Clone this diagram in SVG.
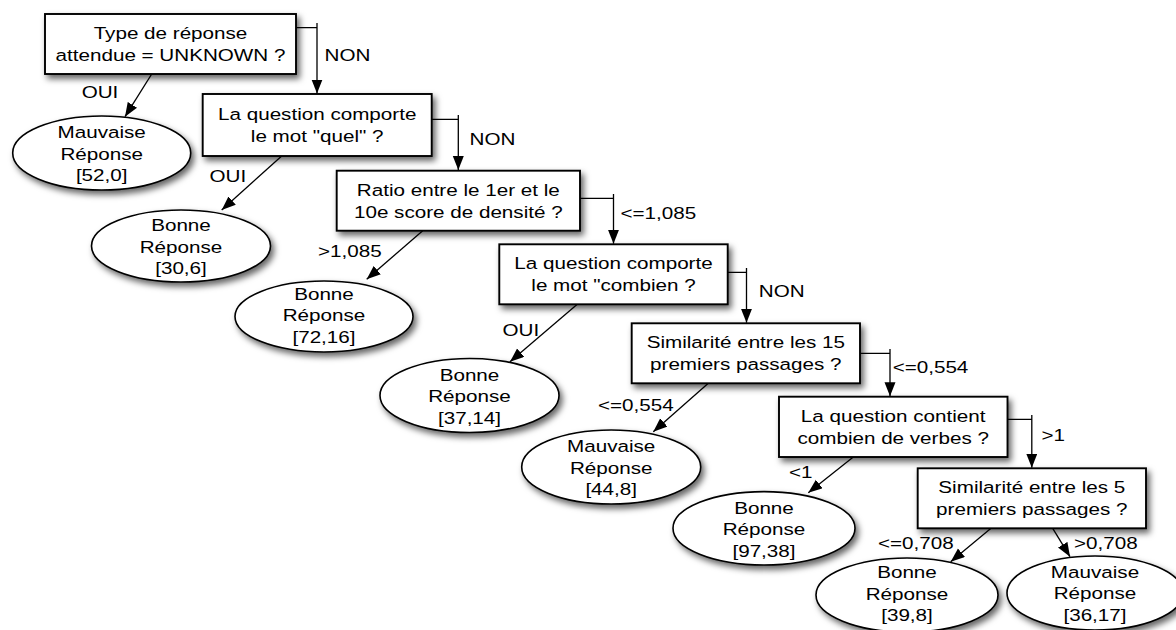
<svg xmlns="http://www.w3.org/2000/svg" width="1176" height="630" viewBox="0 0 1176 630">
<style>
.t{font-family:"Liberation Sans",Arial,Helvetica,sans-serif;font-size:17.2px;fill:#000;text-anchor:middle;transform-box:fill-box;transform-origin:center;transform:scaleX(1.2)}
.box{fill:#fff;stroke:#000;stroke-width:1.9}
.leaf{fill:#fff;stroke:#000;stroke-width:1.6}
.sh{filter:url(#ds)}
.c{fill:none;stroke:#000;stroke-width:1.3}
</style>
<defs>
<filter id="ds" x="-20%" y="-30%" width="150%" height="180%">
<feDropShadow dx="3" dy="4" stdDeviation="3" flood-color="#000" flood-opacity="0.6"/>
</filter>
<marker id="ah" markerUnits="userSpaceOnUse" markerWidth="15" markerHeight="12" refX="14" refY="5.5" orient="auto">
<path d="M0,0 L14,5.5 L0,11 Z" fill="#000"/>
</marker>
</defs>
<rect width="1176" height="630" fill="#fff"/>

<g id="connectors">
<path class="c" d="M296,27.7 H317 M317,23 V93.5" marker-end="url(#ah)"/>
<path class="c" d="M431.7,119.3 H458.3 M458.3,115 V170" marker-end="url(#ah)"/>
<path class="c" d="M580,198.3 H613.5 M613.5,194 V243.8" marker-end="url(#ah)"/>
<path class="c" d="M727.7,272.3 H746.5 M746.5,268 V322.8" marker-end="url(#ah)"/>
<path class="c" d="M860,353.3 H890 M890,349 V396.2" marker-end="url(#ah)"/>
<path class="c" d="M1007.5,419.3 H1031.8 M1031.8,415 V467.8" marker-end="url(#ah)"/>
<line class="c" x1="151.7" y1="74" x2="125" y2="116.7" marker-end="url(#ah)"/>
<line class="c" x1="281.7" y1="156" x2="221.7" y2="210" marker-end="url(#ah)"/>
<line class="c" x1="422.7" y1="230.7" x2="366.7" y2="279.3" marker-end="url(#ah)"/>
<line class="c" x1="577.3" y1="304.3" x2="510" y2="361.7" marker-end="url(#ah)"/>
<line class="c" x1="708.3" y1="383.3" x2="653.3" y2="431.7" marker-end="url(#ah)"/>
<line class="c" x1="853.3" y1="457" x2="808.3" y2="492.7" marker-end="url(#ah)"/>
<line class="c" x1="991" y1="528.3" x2="950.7" y2="561.7" marker-end="url(#ah)"/>
<line class="c" x1="1052.7" y1="528.3" x2="1070" y2="556.7" marker-end="url(#ah)"/>
<text class="t" x="347.5" y="61">NON</text>
<text class="t" x="100" y="98">OUI</text>
<text class="t" x="492.5" y="145.3">NON</text>
<text class="t" x="227.8" y="181.7">OUI</text>
<text class="t" x="658.3" y="219.3">&lt;=1,085</text>
<text class="t" x="349.8" y="256.7">&gt;1,085</text>
<text class="t" x="781.7" y="297">NON</text>
<text class="t" x="520.8" y="336">OUI</text>
<text class="t" x="930.5" y="372.7">&lt;=0,554</text>
<text class="t" x="635.8" y="411.3">&lt;=0,554</text>
<text class="t" x="1053.3" y="441">&gt;1</text>
<text class="t" x="800.8" y="478.3">&lt;1</text>
<text class="t" x="915.8" y="549.3">&lt;=0,708</text>
<text class="t" x="1105.8" y="549.3">&gt;0,708</text>
</g>

<g id="q1"><rect class="box sh" x="45" y="14" width="251" height="60"/>
<text class="t" x="170.5" y="39">Type de réponse</text><text class="t" x="170.5" y="61">attendue = UNKNOWN ?</text></g>
<g id="q2"><rect class="box sh" x="202.7" y="94" width="229" height="62"/>
<text class="t" x="317.2" y="120">La question comporte</text><text class="t" x="317.2" y="142">le mot "quel" ?</text></g>
<g id="q3"><rect class="box sh" x="336.7" y="170.7" width="243.3" height="60"/>
<text class="t" x="458.3" y="195.7">Ratio entre le 1er et le</text><text class="t" x="458.3" y="217.7">10e score de densité ?</text></g>
<g id="q4"><rect class="box sh" x="499.3" y="244.3" width="228.4" height="60"/>
<text class="t" x="613.5" y="269.3">La question comporte</text><text class="t" x="613.5" y="291.3">le mot "combien ?</text></g>
<g id="q5"><rect class="box sh" x="631.7" y="323.3" width="228.3" height="60"/>
<text class="t" x="745.8" y="348.3">Similarité entre les 15</text><text class="t" x="745.8" y="370.3">premiers passages ?</text></g>
<g id="q6"><rect class="box sh" x="779" y="396.7" width="228.5" height="60.3"/>
<text class="t" x="893.2" y="421.8">La question contient</text><text class="t" x="893.2" y="443.8">combien de verbes ?</text></g>
<g id="q7"><rect class="box sh" x="917.7" y="468.3" width="228.3" height="60"/>
<text class="t" x="1031.8" y="493.3">Similarité entre les 5</text><text class="t" x="1031.8" y="515.3">premiers passages ?</text></g>

<g id="l1"><ellipse class="leaf sh" cx="101.7" cy="153" rx="89" ry="37"/>
<text class="t" x="101.7" y="138.5">Mauvaise</text><text class="t" x="101.7" y="160">Réponse</text><text class="t" x="101.7" y="181.5">[52,0]</text></g>
<g id="l2"><ellipse class="leaf sh" cx="181" cy="246" rx="89.5" ry="36"/>
<text class="t" x="181" y="231.5">Bonne</text><text class="t" x="181" y="253">Réponse</text><text class="t" x="181" y="274.5">[30,6]</text></g>
<g id="l3"><ellipse class="leaf sh" cx="324" cy="316.5" rx="89" ry="35.5"/>
<text class="t" x="324" y="300">Bonne</text><text class="t" x="324" y="321.5">Réponse</text><text class="t" x="324" y="343">[72,16]</text></g>
<g id="l4"><ellipse class="leaf sh" cx="469.5" cy="395.5" rx="89.5" ry="37"/>
<text class="t" x="469.5" y="381">Bonne</text><text class="t" x="469.5" y="402.5">Réponse</text><text class="t" x="469.5" y="424">[37,14]</text></g>
<g id="l5"><ellipse class="leaf sh" cx="611.2" cy="467" rx="89.5" ry="37"/>
<text class="t" x="611.2" y="452.5">Mauvaise</text><text class="t" x="611.2" y="474">Réponse</text><text class="t" x="611.2" y="495.5">[44,8]</text></g>
<g id="l6"><ellipse class="leaf sh" cx="764" cy="528.3" rx="91" ry="36.7"/>
<text class="t" x="764" y="513.8">Bonne</text><text class="t" x="764" y="535.3">Réponse</text><text class="t" x="764" y="556.8">[97,38]</text></g>
<g id="l7"><ellipse class="leaf sh" cx="907" cy="595" rx="91" ry="37"/>
<text class="t" x="907" y="578.5">Bonne</text><text class="t" x="907" y="600">Réponse</text><text class="t" x="907" y="621.5">[39,8]</text></g>
<g id="l8"><ellipse class="leaf sh" cx="1095" cy="593" rx="88" ry="37"/>
<text class="t" x="1095" y="578">Mauvaise</text><text class="t" x="1095" y="599.5">Réponse</text><text class="t" x="1095" y="621">[36,17]</text></g>
</svg>
